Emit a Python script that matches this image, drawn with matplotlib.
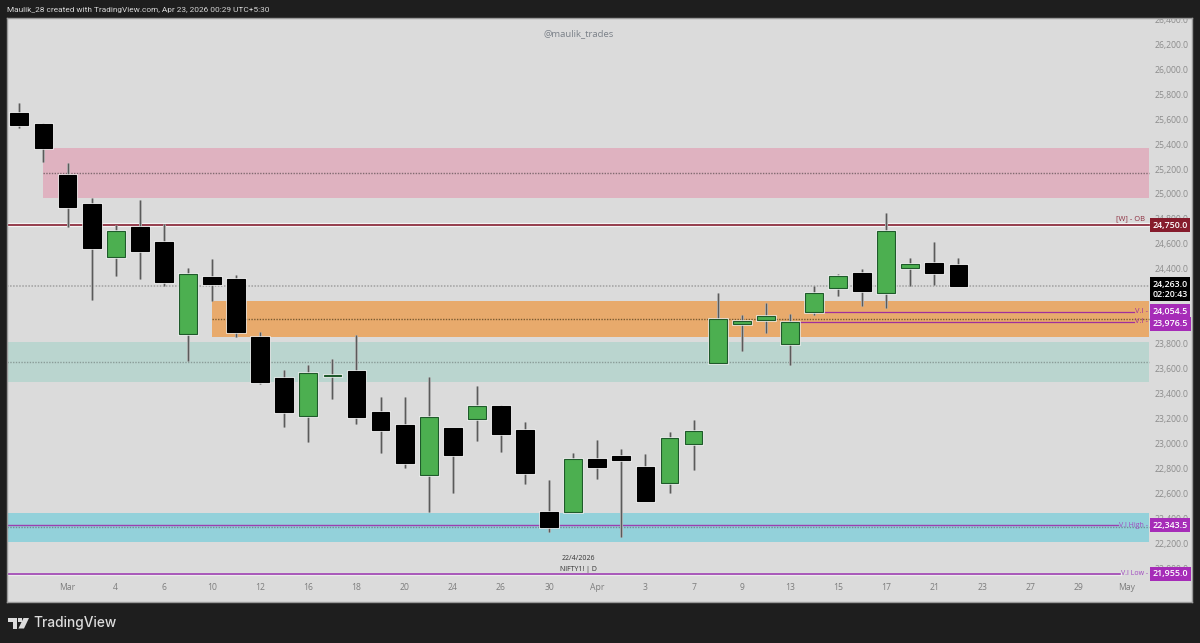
import matplotlib
matplotlib.use("Agg")
import matplotlib.pyplot as plt
import matplotlib.patheffects as pe
from matplotlib.patches import Polygon
import numpy as np

# daily candles
opens = [25650, 25561, 25152, 24920, 24495, 24735, 24615, 23877, 24334, 24318,
         23853, 23524, 23220, 23544, 23580, 23252, 23147, 22746, 23123, 23195,
         23300, 23107, 22450, 22450, 22875, 22899, 22811, 22682, 22995, 23645,
         23957, 23989, 23797, 24054, 24246, 24366, 24206, 24407, 24447, 24431]
highs = [25730, 25569, 25249, 24968, 24751, 24952, 24759, 24407, 24479, 24350,
         23893, 23588, 23629, 23677, 23869, 23372, 23372, 23532, 23123, 23460,
         23305, 23171, 22706, 22923, 23027, 22955, 22915, 23091, 23187, 24206,
         24030, 24126, 24038, 24262, 24358, 24398, 24848, 24487, 24615, 24487]
lows = [25529, 25257, 24735, 24150, 24342, 24318, 24262, 23661, 24142, 23853,
        23476, 23131, 23011, 23356, 23155, 22923, 22803, 22450, 22602, 23019,
        22931, 22674, 22289, 22450, 22714, 22249, 22538, 22602, 22786, 23645,
        23741, 23885, 23629, 24030, 24182, 24102, 24086, 24262, 24270, 24262]
closes = [25553, 25369, 24896, 24567, 24703, 24543, 24294, 24358, 24278, 23893,
          23492, 23252, 23564, 23552, 23212, 23107, 22843, 23212, 22907, 23300,
          23075, 22762, 22329, 22875, 22811, 22867, 22538, 23043, 23099, 23997,
          23981, 24022, 23973, 24206, 24342, 24222, 24703, 24439, 24366, 24263]

# time axis labels
tick_pos = list(range(2, 48, 2))
tick_labels = ["Mar", "4", "6", "10", "12", "16", "18", "20", "24", "26", "30", "Apr",
               "3", "7", "9", "13", "15", "17", "21", "23", "27", "29", "May"]
# 24,000 and 24,200 sit behind the price boxes in the picture
price_ticks = [22000, 22200, 22400, 22600, 22800, 23000, 23200, 23400, 23600, 23800,
               24400, 24600, 24800, 25000, 25200, 25400, 25600, 25800, 26000, 26200, 26400]

# zones: start bar, top, bottom, middle
pink_zone = [1, 25369, 24968, 25172]
orange_zone = [8, 24142, 23853, 23997]
teal_zone = [-1, 23813, 23492, 23655]
cyan_zone = [-1, 22440, 22213, 22330]

last_price = 24263.0
ob_price = 24750.0
vi_a = 24054.5
vi_b = 23976.5
vi_high = 22343.5
vi_low = 21955.0

BG = "#1e1e1e"
PANEL = "#dbdbdb"
GREY = "#8c8c8c"
PURPLE = "#a62cb8"
DARKRED = "#861c2c"
ZONE_END = 46.93
BOX_X = 46.98

plt.rcParams["font.family"] = "Open Sans"

fig = plt.figure(figsize=(12, 6.43), dpi=100, facecolor=BG)
ax = fig.add_axes([7 / 1200, 1 - 602 / 643, 1185 / 1200, 584 / 643])
ax.set_facecolor(PANEL)
ax.set_xlim(-0.515, 48.7)
ax.set_ylim(21728, 26411)

# zones
for zone, col, dot in [(pink_zone, "#dfb2c0", "#806a70"), (orange_zone, "#e8aa6c", "#7a5a30"),
                       (teal_zone, "#bad5cf", "#8a9c98"), (cyan_zone, "#93d1da", "#6f8f96")]:
    start = max(zone[0], -0.515)
    ax.fill_between([start, ZONE_END], zone[2], zone[1], color=col, lw=0, zorder=1)
    ax.plot([start, ZONE_END], [zone[3], zone[3]], color=dot, lw=1.0, ls=(0, (1, 1)), zorder=1.5)

halo = [pe.Stroke(linewidth=3, foreground="#f4f4f4"), pe.Normal()]

# horizontal levels
ax.plot([-0.515, ZONE_END], [last_price, last_price], color="#a0a0a0", lw=1.1, ls=(0, (1, 1)), zorder=1.5)
ax.plot([-0.515, ZONE_END], [ob_price, ob_price], color="#8e2f40", lw=1.3, zorder=2,
        path_effects=halo)
ax.plot([33, 46.3], [vi_a, vi_a], color="#a0309c", lw=0.9, zorder=2)
ax.plot([32, 46.3], [vi_b, vi_b], color="#a0309c", lw=0.9, zorder=2)
ax.plot([-0.515, 45.64], [vi_high, vi_high], color="#9c3fb0", lw=1.0, zorder=2)
ax.plot([-0.515, 45.7], [vi_low, vi_low], color="#9c3fb0", lw=1.2, zorder=2,
        path_effects=[pe.Stroke(linewidth=2.4, foreground="#ececec"), pe.Normal()])

# candles
x = np.arange(len(opens))
o = np.array(opens)
c = np.array(closes)
up = c >= o
ax.vlines(x, lows, highs, color="#5a5a5a", lw=1.0, zorder=3,
          path_effects=[pe.Stroke(linewidth=2, foreground="#bdbdbd"), pe.Normal()])
bars = ax.bar(x, np.abs(c - o), bottom=np.minimum(o, c), width=0.74, zorder=4,
              color=["#4caf50" if u else "#000000" for u in up],
              edgecolor=["#1f5a2b" if u else "#000000" for u in up], linewidth=0.8)
for b in bars:
    b.set_path_effects([pe.Stroke(linewidth=1.8, foreground="#f2f2f2"), pe.Normal()])

# axes text
ax.set_xticks(tick_pos)
ax.set_xticklabels(tick_labels)
ax.tick_params(axis="x", length=0, pad=-14, labelsize=6.2, labelcolor="#7d7d7d")
ax.yaxis.tick_right()
ax.set_yticks(price_ticks)
ax.set_yticklabels([f"{p:,.1f}" for p in price_ticks])
ax.tick_params(axis="y", length=0, pad=-27, labelsize=6.2, labelcolor=GREY)
for lab in ax.get_yticklabels():
    lab.set_ha("left")
    lab.set_clip_on(True)
    lab.set_clip_box(ax.bbox)
for s in ax.spines.values():
    s.set_color("#9a9a9a")
    s.set_linewidth(1.0)

# right hand price boxes
def price_box(price, text, col, dy=0):
    ax.annotate(text, (BOX_X, price), xytext=(1.5, dy), textcoords="offset points",
                color="white", fontsize=6.4, fontweight="semibold", va="center", ha="left",
                zorder=6, linespacing=1.15, annotation_clip=False,
                bbox=dict(boxstyle="square,pad=0.28", fc=col, ec=col, lw=0))

price_box(ob_price, "24,750.0", DARKRED)
price_box(last_price, "24,263.0\n02:20:43", "#000000", dy=-2.5)
price_box(vi_a, "24,054.5", PURPLE, dy=0.3)
price_box(vi_b, "23,976.5", PURPLE, dy=-1.7)
price_box(vi_high, "22,343.5", PURPLE)
price_box(vi_low, "21,955.0", PURPLE)

# drawing labels next to the box
ax.text(46.75, ob_price + 50, "[W] - OB", color="#8e2f40", fontsize=5.4, ha="right", va="center", zorder=5)
ax.text(46.88, vi_a, "V.I -", color="#a0309c", fontsize=5.4, ha="right", va="center", zorder=5)
ax.text(46.88, vi_b, "V.I -", color="#a0309c", fontsize=5.4, ha="right", va="center", zorder=5)
ax.text(46.88, vi_high, "V.I High -", color="#a04ac0", fontsize=5.0, ha="right", va="center", zorder=5)
ax.text(46.88, vi_low, "V.I Low -", color="#a04ac0", fontsize=5.0, ha="right", va="center", zorder=5)

# watermark and chart stamp
ax.text(0.482, 0.974, "@maulik_trades", transform=ax.transAxes, color="#7a8088", fontsize=6.8, ha="center", va="center")
ax.text(0.482, 0.075, "22/4/2026", transform=ax.transAxes, color="#333333", fontsize=5, ha="center", va="center")
ax.text(0.482, 0.055, "NIFTY1! | D", transform=ax.transAxes, color="#333333", fontsize=5, ha="center", va="center")

# header and logo
fig.text(7 / 1200, 1 - 10 / 643, "Maulik_28 created with TradingView.com, Apr 23, 2026 00:29 UTC+5:30",
         color="#d6d6d6", fontsize=5.95, ha="left", va="center", family="Roboto")
fig.text(33 / 1200, 1 - 622.5 / 643, "TradingView", color="#dcdcdc", fontsize=9.9, fontweight="medium",
         ha="left", va="center", family="Inter")

def px(xp, yp):
    return (xp / 1200, 1 - yp / 643)

logo = "#dcdcdc"
fig.add_artist(Polygon([px(8, 618), px(17.2, 618), px(17.2, 628.5), px(12.6, 628.5), px(12.6, 622), px(8, 622)],
                       closed=True, fc=logo, ec="none", transform=fig.transFigure))
fig.add_artist(Polygon([px(23.5, 618), px(29, 618), px(24, 628.5), px(18.4, 628.5)],
                       closed=True, fc=logo, ec="none", transform=fig.transFigure))
fig.add_artist(Polygon([px(18, 618), px(22, 618), px(22, 622), px(18, 622)],
                       closed=True, fc=logo, ec="none", transform=fig.transFigure))

fig.savefig("out.png", dpi=100, facecolor=BG)
